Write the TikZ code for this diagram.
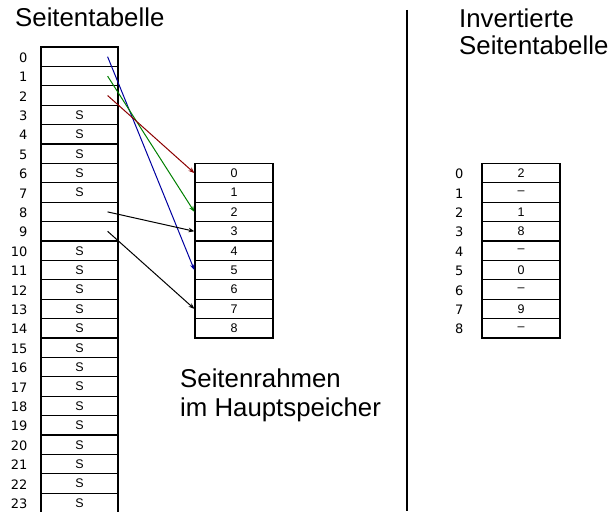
\documentclass[tikz,border=0pt]{standalone}
\usepackage{fontspec}
\usepackage{xcolor}
\setmainfont{Liberation Sans}
\newfontfamily\rownumfont{DejaVu Sans}
\usetikzlibrary{arrows.meta}
\definecolor{mapBlue}{RGB}{0, 0, 160}
\definecolor{mapGreen}{RGB}{0, 128, 0}
\definecolor{mapRed}{RGB}{139, 0, 0}

\begin{document}
\begin{tikzpicture}[x=1pt, y=-1pt]
            \useasboundingbox (0,0) rectangle (612,511);
            % titles
            \node[anchor=base west, inner sep=0pt, font=\fontsize{25.8}{28}\selectfont] (ptTitle) at (15,27) {Seitentabelle};
            \node[anchor=base west, inner sep=0pt, align=left, font=\fontsize{25.8}{28}\selectfont] (iptTitle) at (459,55) {Invertierte\\Seitentabelle};
            \node[anchor=base west, inner sep=0pt, align=left, font=\fontsize{25.8}{29}\selectfont] (frameTitle) at (180,416) {Seitenrahmen\\im Hauptspeicher};
            % page table
            \foreach \i in {0,...,23} {
                \node[draw, line width=1.2pt, minimum width=77pt, minimum height=19.4pt, inner sep=0pt, font=\fontsize{12.5}{13}\selectfont] (p\i) at (79.5, 56.7+\i*19.4) {\ifnum\i<3 \else\ifnum\i=8 \else\ifnum\i=9 \else S\fi\fi\fi};
                \node[anchor=east, inner sep=0pt, font=\rownumfont\fontsize{13}{14}\selectfont] (pn\i) at (27.5, 57.5+\i*19.4) {\i};
            }
            % page frames in main memory
            \foreach \i in {0,...,8} {
                \node[draw, line width=1.2pt, minimum width=78pt, minimum height=19.4pt, inner sep=0pt, font=\fontsize{12.5}{13}\selectfont] (f\i) at (234, 173.1+\i*19.4) {\i};
            }
            % inverted page table
            \foreach \i/\pg in {0/2, 1/\textendash, 2/1, 3/8, 4/\textendash, 5/0, 6/\textendash, 7/9, 8/\textendash} {
                \node[draw, line width=1.2pt, minimum width=78pt, minimum height=19.4pt, inner sep=0pt, font=\fontsize{12.5}{13}\selectfont] (ip\i) at (521, 173.1+\i*19.4) {\pg};
                \node[anchor=west, inner sep=0pt, font=\rownumfont\fontsize{13}{14}\selectfont] (ipn\i) at (455, 174+\i*19.4) {\i};
            }
            % separator
            \coordinate (sepTop) at (407,10);
            \coordinate (sepBottom) at (407,511);
            \draw[line width=1.2pt] (sepTop) -- (sepBottom);
            % mappings
            \draw[-{Stealth[length=6pt, width=4.5pt]}, line width=1pt, mapBlue] ([xshift=-11pt]p0.east) -- (f5.west);
            \draw[-{Stealth[length=6pt, width=4.5pt]}, line width=1pt, mapGreen] ([xshift=-11pt]p1.east) -- (f2.west);
            \draw[-{Stealth[length=6pt, width=4.5pt]}, line width=1pt, mapRed] ([xshift=-11pt]p2.east) -- (f0.west);
            \draw[-{Stealth[length=6pt, width=4.5pt]}, line width=1pt] ([xshift=-11pt]p8.east) -- (f3.west);
            \draw[-{Stealth[length=6pt, width=4.5pt]}, line width=1pt] ([xshift=-11pt]p9.east) -- (f7.west);
        \end{tikzpicture}
\end{document}
